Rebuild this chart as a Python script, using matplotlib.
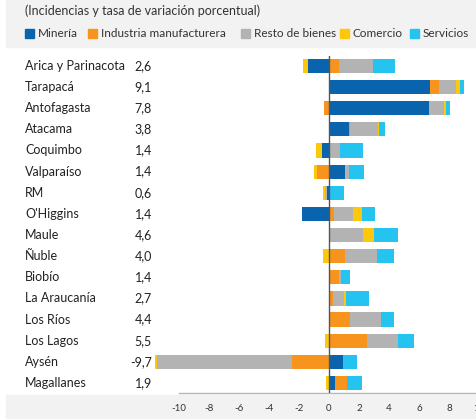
import matplotlib
matplotlib.use("Agg")
import matplotlib.pyplot as plt
from matplotlib.patches import Rectangle
import numpy as np

plt.rcParams["font.family"] = ["Lato", "DejaVu Sans"]

# regions, top to bottom
regions = ["Arica y Parinacota", "Tarapacá", "Antofagasta", "Atacama", "Coquimbo",
           "Valparaíso", "RM", "O'Higgins", "Maule", "Ñuble", "Biobío",
           "La Araucanía", "Los Ríos", "Los Lagos", "Aysén", "Magallanes"]
rates = ["2,6", "9,1", "7,8", "3,8", "1,4", "1,4", "0,6", "1,4", "4,6", "4,0",
         "1,4", "2,7", "4,4", "5,5", "-9,7", "1,9"]

# incidences (percentage points) per sector
mineria = [-1.43, 6.74, 6.66, 1.36, -0.49, 1.09, -0.13, -1.82, 0.0, 0.0,
           0.0, 0.0, 0.0, 0.0, 0.93, 0.42]
industria = [0.67, 0.60, -0.33, 0.04, 0.06, -0.82, 0.0, 0.33, 0.02, 1.09,
             0.69, 0.29, 1.40, 2.52, -2.44, 0.80]
resto = [2.25, 1.13, 1.00, 1.89, 0.69, 0.27, -0.15, 1.26, 2.27, 2.11,
         0.13, 0.71, 2.04, 2.06, -9.05, 0.0]
comercio = [-0.33, 0.27, 0.13, 0.04, -0.40, -0.15, -0.11, 0.60, 0.73, -0.40,
            0.0, 0.11, 0.0, -0.25, -0.09, -0.23]
servicios = [1.45, 0.27, 0.29, 0.42, 1.49, 0.98, 1.00, 0.89, 1.60, 1.13,
             0.60, 1.56, 0.89, 1.09, 0.91, 0.95]

series = ["Minería", "Industria manufacturera", "Resto de bienes", "Comercio", "Servicios"]
colors = ["#0a64ad", "#f7941d", "#b3b3b3", "#fdc80c", "#25c3ef"]
xticks = [-10, -8, -6, -4, -2, 0, 2, 4, 6, 8, 10]

W, H = 477, 419
fig = plt.figure(figsize=(W / 100, H / 100), dpi=100)
fig.patch.set_facecolor("white")

# grey bands at top and bottom
fig.patches.append(Rectangle((6 / W, 1 - 47 / H), 1, 47 / H, transform=fig.transFigure,
                             color="#f2f2f2", zorder=-10))
fig.patches.append(Rectangle((6 / W, 0), 1, 24 / H, transform=fig.transFigure,
                             color="#f2f2f2", zorder=-10))

ax = fig.add_axes([179 / W, 1 - 392.7 / H, 300 / W, 336.7 / H])
ax.set_facecolor("none")

y = np.arange(len(regions))
pos = np.zeros(len(regions))
neg = np.zeros(len(regions))
for name, vals, col in zip(series, [mineria, industria, resto, comercio, servicios], colors):
    v = np.array(vals)
    left = np.where(v >= 0, pos, neg)
    ax.barh(y, v, left=left, height=0.67, color=col, lw=0, clip_on=False, zorder=2)
    pos += np.where(v >= 0, v, 0)
    neg += np.where(v < 0, v, 0)

ax.axvline(0, color="#555555", lw=1, zorder=3)
ax.set_xlim(-10, 10)
ax.set_ylim(len(regions) - 0.54, -0.47)
ax.set_yticks([])
ax.set_xticks(xticks)
ax.set_xticklabels([str(t) for t in xticks])
ax.tick_params(axis="x", length=0, pad=8, labelsize=7, labelcolor="#333333")
for s in ["top", "right", "left"]:
    ax.spines[s].set_visible(False)
ax.spines["bottom"].set_color("#b5b5b5")
ax.spines["bottom"].set_linewidth(1)

# row labels and rates
for i, (r, v) in enumerate(zip(regions, rates)):
    yy = ax.transData.transform((0, i))[1] / H
    fig.text(25 / W, yy, r, ha="left", va="center", fontsize=9, color="#222222")
    fig.text(152 / W, yy, v, ha="right", va="center", fontsize=9, color="#222222")

# subtitle and legend
fig.text(25 / W, 1 - 11 / H, "(Incidencias y tasa de variación porcentual)",
         ha="left", va="center", fontsize=9, color="#333333")
leg_x = [25, 88, 241, 340, 410]
for lx, name, col in zip(leg_x, series, colors):
    fig.patches.append(Rectangle((lx / W, 1 - 38 / H), 9 / W, 9 / H,
                                 transform=fig.transFigure, color=col, zorder=1))
    fig.text((lx + 13) / W, 1 - 33.5 / H, name, ha="left", va="center",
             fontsize=8.5, color="#333333")

fig.savefig("out.png", dpi=100)
